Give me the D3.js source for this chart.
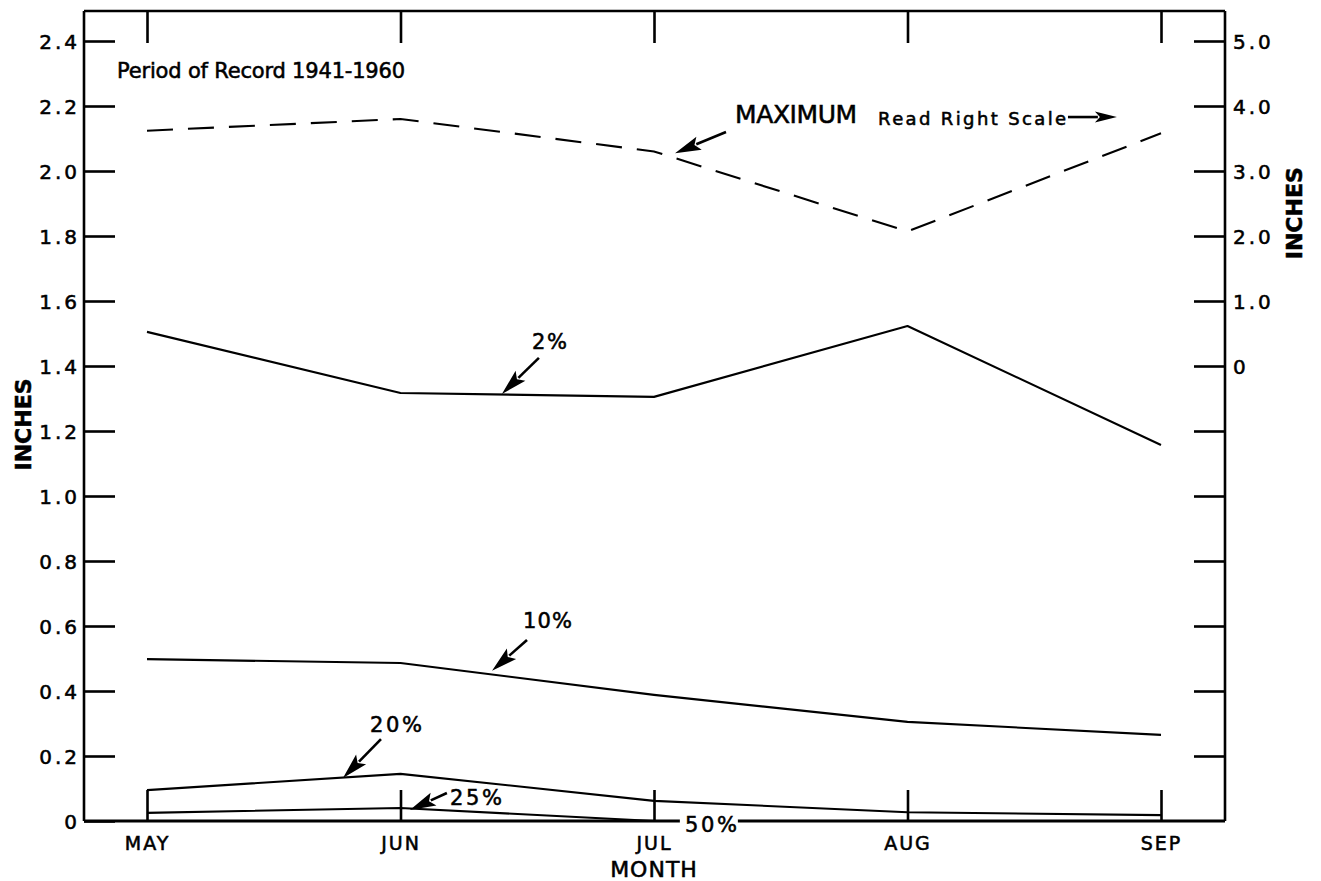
<!DOCTYPE html>
<html>
<head>
<meta charset="utf-8">
<script src="https://cdn.jsdelivr.net/npm/d3@7/dist/d3.min.js"></script>
<style>
  html, body { margin: 0; padding: 0; background: #fff; }
  svg { display: block; }
  text { font-family: "DejaVu Sans", "Liberation Sans", sans-serif; fill: #000; stroke: #000; stroke-width: 0.55px; }
</style>
</head>
<body>
<svg id="chart" width="1321" height="881"></svg>
<script>
// ---- data ----
const months = ["MAY", "JUN", "JUL", "AUG", "SEP"];
const leftTicks = [0, 0.2, 0.4, 0.6, 0.8, 1.0, 1.2, 1.4, 1.6, 1.8, 2.0, 2.2, 2.4];
const rightTicks = [-6, -5, -4, -3, -2, -1, 0, 1, 2, 3, 4, 5];
// Maximum (read right scale)
const maximum = [3.62, 3.80, 3.30, 2.07, 3.58];
// Percent-chance curves (left scale)
const pct2  = [1.505, 1.317, 1.305, 1.523, 1.157];
const pct10 = [0.498, 0.486, 0.388, 0.305, 0.265];
const pct20 = [0.095, 0.145, 0.062, 0.027, 0.018];
const pct25 = [0.025, 0.040, 0.000, 0.000, 0.000];
const pct50 = [0, 0, 0, 0, 0];

// ---- layout ----
const svg = d3.select("#chart");
const frame = { left: 84, right: 1225, top: 11, bottom: 821 };

const x = d3.scaleLinear().domain([0, months.length - 1]).range([147, 1161]);
const y = d3.scaleLinear().domain([0, 2.4]).range([frame.bottom, 41]);
const yR = d3.scaleLinear().domain([-7, 5]).range([frame.bottom, 41]);

const axisW = 2.6, lineW = 2.1;

// frame (top, left, right, bottom)
const g = svg.append("g");
g.append("line").attr("x1", frame.left).attr("x2", frame.right).attr("y1", frame.top).attr("y2", frame.top)
  .attr("stroke", "#000").attr("stroke-width", axisW);
g.append("line").attr("x1", frame.left).attr("x2", frame.left).attr("y1", frame.top).attr("y2", frame.bottom)
  .attr("stroke", "#000").attr("stroke-width", axisW);
g.append("line").attr("x1", frame.right).attr("x2", frame.right).attr("y1", frame.top).attr("y2", frame.bottom)
  .attr("stroke", "#000").attr("stroke-width", axisW);
g.append("line").attr("x1", frame.left).attr("x2", frame.right).attr("y1", frame.bottom).attr("y2", frame.bottom)
  .attr("stroke", "#000").attr("stroke-width", 3);

// left axis
const leftAxis = d3.axisLeft(y).tickValues(leftTicks).tickSizeInner(-31).tickSizeOuter(0).tickPadding(4)
  .tickFormat(d => d === 0 ? "0" : d3.format(".1f")(d));
const gl = svg.append("g").attr("transform", `translate(${frame.left},0)`).call(leftAxis);
gl.select(".domain").remove();
gl.selectAll(".tick line").attr("stroke", "#000").attr("stroke-width", axisW);
gl.selectAll(".tick text").attr("font-size", 20).attr("letter-spacing", 3).attr("font-family", "DejaVu Sans")
  .attr("dy", "0.36em");

// right axis
const rightAxis = d3.axisRight(yR).tickValues(rightTicks).tickSizeInner(-31).tickSizeOuter(0).tickPadding(8)
  .tickFormat(d => d < 0 ? "" : (d === 0 ? "0" : d3.format(".1f")(d)));
const gr = svg.append("g").attr("transform", `translate(${frame.right},0)`).call(rightAxis);
gr.select(".domain").remove();
gr.selectAll(".tick line").attr("stroke", "#000").attr("stroke-width", axisW);
gr.selectAll(".tick text").attr("font-size", 20).attr("letter-spacing", 3).attr("font-family", "DejaVu Sans")
  .attr("dy", "0.36em");

// bottom axis (month ticks pointing up)
const bottomAxis = d3.axisBottom(x).tickValues(d3.range(months.length))
  .tickSizeInner(-31).tickSizeOuter(0).tickPadding(0).tickFormat(i => months[i]);
const gb = svg.append("g").attr("transform", `translate(0,${frame.bottom})`).call(bottomAxis);
gb.select(".domain").remove();
gb.selectAll(".tick line").attr("stroke", "#000").attr("stroke-width", axisW);
gb.selectAll(".tick text").attr("font-size", 19).attr("letter-spacing", 2).attr("y", 29).attr("dy", 0)
  .attr("font-family", "DejaVu Sans");

// top axis (month ticks pointing down)
const topAxis = d3.axisTop(x).tickValues(d3.range(months.length)).tickSizeInner(-32).tickSizeOuter(0)
  .tickFormat("");
const gt = svg.append("g").attr("transform", `translate(0,${frame.top})`).call(topAxis);
gt.select(".domain").remove();
gt.selectAll(".tick line").attr("stroke", "#000").attr("stroke-width", axisW);

// axis titles
svg.append("text").attr("transform", `translate(${x(2)},877)`).attr("text-anchor", "middle")
  .attr("font-size", 22).attr("letter-spacing", 1).text("MONTH");
svg.append("text").attr("transform", `translate(31,${y(1.22)}) rotate(-90)`).attr("text-anchor", "middle")
  .attr("font-size", 22).attr("font-weight", "bold").text("INCHES");
svg.append("text").attr("transform", `translate(1302,${yR(2.35)}) rotate(-90)`).attr("text-anchor", "middle")
  .attr("font-size", 22).attr("font-weight", "bold").text("INCHES");

// ---- data lines ----
const lineL = d3.line().x((d, i) => x(i)).y(d => y(d));
const lineR = d3.line().x((d, i) => x(i)).y(d => yR(d));

svg.append("path").datum(maximum).attr("d", lineR).attr("fill", "none").attr("stroke", "#000")
  .attr("stroke-width", lineW).attr("stroke-dasharray", "26,15");

[pct2, pct10, pct20, pct25, pct50].forEach(s => {
  svg.append("path").datum(s).attr("d", lineL).attr("fill", "none").attr("stroke", "#000")
    .attr("stroke-width", lineW).attr("stroke-linejoin", "round");
});

// ---- annotations ----
function arrow(i1, v1, i2, v2, len = 26, half = 7) {
  const x1 = x(i1), y1 = y(v1), x2 = x(i2), y2 = y(v2);
  const dx = x2 - x1, dy = y2 - y1, L = Math.hypot(dx, dy);
  const ux = dx / L, uy = dy / L, px = -uy, py = ux;
  const bx = x2 - ux * len, by = y2 - uy * len;
  svg.append("line").attr("x1", x1).attr("y1", y1).attr("x2", bx + ux * 3).attr("y2", by + uy * 3)
    .attr("stroke", "#000").attr("stroke-width", 2.6);
  svg.append("path").attr("d",
    `M${x2},${y2} L${bx + px * half},${by + py * half} L${bx + ux * 5},${by + uy * 5} L${bx - px * half},${by - py * half} Z`)
    .attr("fill", "#000");
}
function label(txt, i, v, size, len) {
  const t = svg.append("text").attr("x", x(i)).attr("y", y(v)).attr("font-size", size).text(txt);
  if (len) t.attr("textLength", len).attr("lengthAdjust", "spacing");
  return t;
}

label("Period of Record 1941-1960", -0.118, 2.286, 21, 288);
label("MAXIMUM", 2.320, 2.148, 25, 122);
label("Read Right Scale", 2.884, 2.142, 18, 188);
arrow(3.633, 2.166, 3.826, 2.166, 22, 5.5);
arrow(2.284, 2.120, 2.083, 2.055);

label("2%", 1.519, 1.452, 21, 35);
arrow(1.546, 1.425, 1.400, 1.314);

label("10%", 1.483, 0.594, 21, 49);
arrow(1.499, 0.557, 1.361, 0.462);

label("20%", 0.880, 0.274, 21, 52);
arrow(0.923, 0.252, 0.773, 0.132);

label("25%", 1.195, 0.049, 21, 52);
arrow(1.183, 0.086, 1.037, 0.034);

// 50% label breaks the baseline
svg.append("rect").attr("x", x(2.102)).attr("y", y(0.03)).attr("width", 58).attr("height", 20).attr("fill", "#fff");
label("50%", 2.122, -0.034, 21, 52);
</script>
</body>
</html>
